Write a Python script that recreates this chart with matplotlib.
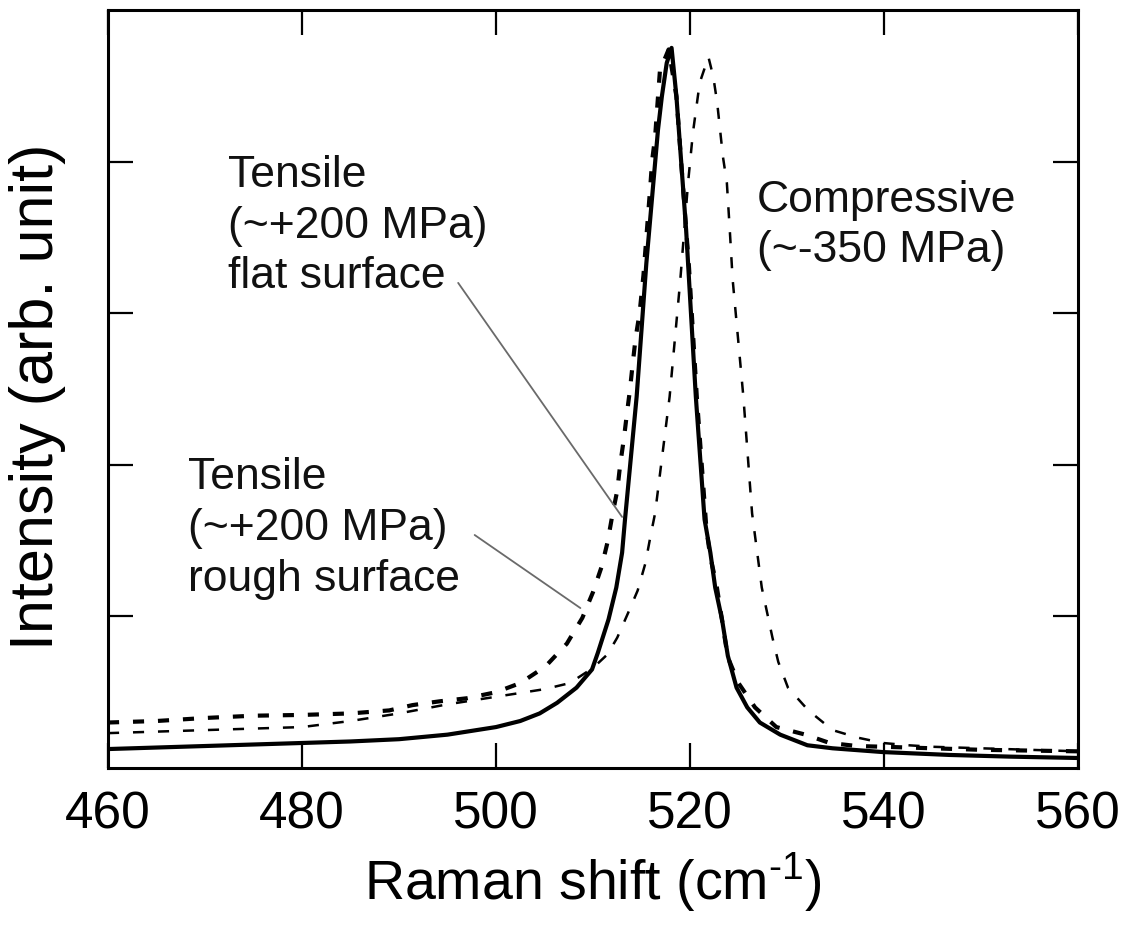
import matplotlib
matplotlib.use("Agg")
import matplotlib.pyplot as plt

plt.rcParams['font.family'] = ['Liberation Sans', 'DejaVu Sans']
plt.rcParams['mathtext.fontset'] = 'custom'
plt.rcParams['mathtext.rm'] = 'Liberation Sans'
plt.rcParams['mathtext.it'] = 'Liberation Sans'
plt.rcParams['lines.scale_dashes'] = False

# ---- data ----
flat_x = [460, 465, 470, 475, 480, 485, 490, 495, 500, 502.5, 504.5, 506.3, 508.3, 509.9,
          510.5, 511.6, 512.4, 513.0, 513.3, 514.5, 515.5, 516.1, 516.7, 517.1, 517.6, 518.1,
          518.6, 519.1, 519.6, 520.6, 521.5, 522.1, 522.6, 523.3, 523.9, 524.8, 525.9, 527.2,
          529.3, 532.1, 534.7, 539.9, 546.8, 553, 560]
flat_y = [0.125, 0.135, 0.145, 0.155, 0.165, 0.175, 0.19, 0.22, 0.27, 0.31, 0.36, 0.43, 0.53, 0.65,
          0.76, 0.98, 1.19, 1.42, 1.64, 2.45, 3.33, 3.77, 4.21, 4.43, 4.65, 4.75,
          4.43, 3.99, 3.55, 2.45, 1.64, 1.42, 1.19, 0.98, 0.74, 0.53, 0.40, 0.30,
          0.22, 0.15, 0.13, 0.105, 0.086, 0.075, 0.066]

rough_x = [460, 465, 470, 475, 480, 485, 489, 491.4, 494.2, 497, 500, 502.5, 505.1, 507.3, 508.9,
           510.0, 510.9, 511.5, 512.0, 512.5, 512.8, 513.2, 513.5, 513.8, 514.1, 514.4, 514.8,
           515.2, 515.5, 515.9, 516.1, 516.4, 516.6, 516.9, 517.8, 518.6, 519.2, 519.9, 520.7,
           521.7, 522.1, 522.7, 523.1, 523.5, 523.9, 525.0, 526.7, 528.9, 531.9, 534.4, 537.2,
           540, 545, 550, 555, 560]
rough_y = [0.30, 0.31, 0.33, 0.345, 0.35, 0.36, 0.38, 0.415, 0.44, 0.46, 0.50, 0.56, 0.67, 0.82, 0.99,
           1.16, 1.33, 1.49, 1.67, 1.83, 2.0, 2.18, 2.34, 2.49, 2.67, 2.84, 3.0,
           3.25, 3.5, 3.83, 4.01, 4.16, 4.34, 4.6, 4.74, 4.43, 3.9, 3.3, 2.45,
           1.57, 1.39, 1.22, 1.06, 0.89, 0.73, 0.56, 0.40, 0.27, 0.22, 0.165, 0.145,
           0.14, 0.13, 0.12, 0.115, 0.11]

comp_x = [460, 465, 470, 475, 480, 485, 490, 495, 500, 505, 507.6, 510, 511.5, 512.5, 513.6,
          514.6, 515.4, 515.9, 516.4, 517.9, 519.0, 519.8, 520.3, 521.0, 521.9, 522.4, 522.8,
          523.1, 523.4, 523.8, 524.1, 524.4, 525.5, 526.4, 527.4, 528.5, 529.1, 530.1, 532.2,
          534.7, 537.3, 539.9, 542.5, 545, 550, 555, 560]
comp_y = [0.23, 0.24, 0.25, 0.26, 0.27, 0.31, 0.36, 0.42, 0.47, 0.52, 0.56, 0.66, 0.75, 0.86, 1.02,
          1.17, 1.35, 1.52, 1.68, 2.45, 3.22, 3.86, 4.19, 4.52, 4.69, 4.56, 4.39,
          4.21, 4.03, 3.86, 3.55, 3.22, 2.45, 1.68, 1.19, 0.86, 0.70, 0.53, 0.38,
          0.25, 0.20, 0.165, 0.15, 0.14, 0.13, 0.12, 0.11]

x_ticks = [460, 480, 500, 520, 540, 560]
y_ticks = [1, 2, 3, 4]

label_flat = "Tensile\n(~+200 MPa)\nflat surface"
label_rough = "Tensile\n(~+200 MPa)\nrough surface"
label_comp = "Compressive\n(~-350 MPa)"

# ---- figure ----
fig = plt.figure(figsize=(11.34, 9.36), dpi=100)
ax = fig.add_axes([108 / 1134, 168 / 936, 970 / 1134, 758 / 936])

ax.plot(flat_x, flat_y, color='black', lw=3.0, solid_joinstyle='round')
ax.plot(rough_x, rough_y, color='black', lw=3.0, dashes=(8, 10), dash_capstyle='butt')
ax.plot(comp_x, comp_y, color='black', lw=1.8, dashes=(8, 10), dash_capstyle='butt')

ax.set_xlim(460, 560)
ax.set_ylim(0, 5)
ax.set_xticks(x_ticks)
ax.set_yticks(y_ticks)
ax.set_yticklabels([])
ax.tick_params(axis='both', which='major', direction='in', length=18, width=1.6,
               top=True, right=True, labelsize=37, pad=16)
for sp in ax.spines.values():
    sp.set_linewidth(2.2)

xl = ax.set_xlabel(r"Raman shift (cm$^{\text{-1}}$)", fontsize=40)
ax.xaxis.set_label_coords(0.5, -0.150)
xl.set_verticalalignment('center')
yl = ax.set_ylabel("Intensity (arb. unit)", fontsize=44)
ax.yaxis.set_label_coords(-0.073, 0.49)
yl.set_verticalalignment('center')

txt_color = '#111111'
ax.text(472.4, 3.575, label_flat, fontsize=32, ha='left', va='center',
        linespacing=1.3, color=txt_color)
ax.text(526.9, 3.58, label_comp, fontsize=32, ha='left', va='center',
        linespacing=1.28, color=txt_color)
ax.text(468.2, 1.58, label_rough, fontsize=32, ha='left', va='center',
        linespacing=1.3, color=txt_color)

line_kw = dict(arrowprops=dict(arrowstyle='-', color='#6a6a6a', lw=1.3, shrinkA=0, shrinkB=0))
ax.annotate('', xy=(513.0, 1.656), xytext=(496.1, 3.20), **line_kw)
ax.annotate('', xy=(508.7, 1.055), xytext=(497.8, 1.537), **line_kw)

fig.savefig("out.png", dpi=100)
